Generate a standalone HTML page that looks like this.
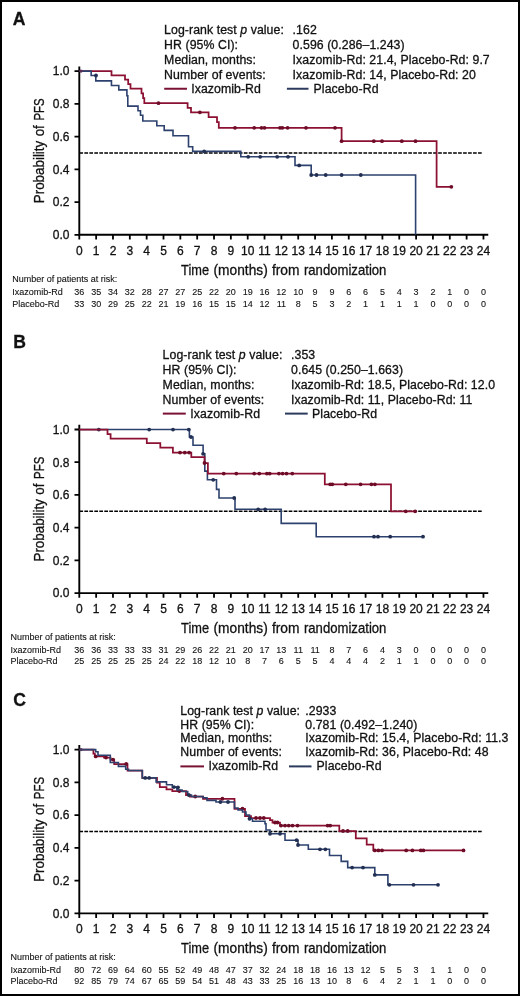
<!DOCTYPE html>
<html><head><meta charset="utf-8"><title>PFS Kaplan-Meier curves</title>
<style>
html,body{margin:0;padding:0;background:#fff;}
body{width:520px;height:996px;overflow:hidden;position:relative;}
.frame{position:absolute;left:0;top:0;width:516px;height:992px;border:2px solid #000;}
svg{position:absolute;left:0;top:0;will-change:transform;}
svg text{font-family:"Liberation Sans", sans-serif;fill:#111;stroke:#111;stroke-width:0.3px;}
</style></head>
<body>
<div class="frame"></div>
<svg width="520" height="996" viewBox="0 0 520 996">
<text x="12.7" y="24.8" font-size="17.6" font-weight="bold" fill="#000">A</text>
<path d="M79.3 66.4V234.8H488.26" fill="none" stroke="#000" stroke-width="1.9"/>
<path d="M74.5 234.8H79.3M74.5 202.06H79.3M74.5 169.32H79.3M74.5 136.58H79.3M74.5 103.84H79.3M74.5 71.1H79.3M79.3 234.8V239.4M96.14 234.8V239.4M112.98 234.8V239.4M129.82 234.8V239.4M146.66 234.8V239.4M163.5 234.8V239.4M180.34 234.8V239.4M197.18 234.8V239.4M214.02 234.8V239.4M230.86 234.8V239.4M247.7 234.8V239.4M264.54 234.8V239.4M281.38 234.8V239.4M298.22 234.8V239.4M315.06 234.8V239.4M331.9 234.8V239.4M348.74 234.8V239.4M365.58 234.8V239.4M382.42 234.8V239.4M399.26 234.8V239.4M416.1 234.8V239.4M432.94 234.8V239.4M449.78 234.8V239.4M466.62 234.8V239.4M483.46 234.8V239.4" fill="none" stroke="#000" stroke-width="1.8"/>
<text x="69.4" y="239.1" font-size="12" text-anchor="end">0.0</text>
<text x="69.4" y="206.36" font-size="12" text-anchor="end">0.2</text>
<text x="69.4" y="173.62" font-size="12" text-anchor="end">0.4</text>
<text x="69.4" y="140.88" font-size="12" text-anchor="end">0.6</text>
<text x="69.4" y="108.14" font-size="12" text-anchor="end">0.8</text>
<text x="69.4" y="75.4" font-size="12" text-anchor="end">1.0</text>
<text x="79.3" y="254.6" font-size="12" text-anchor="middle">0</text>
<text x="96.14" y="254.6" font-size="12" text-anchor="middle">1</text>
<text x="112.98" y="254.6" font-size="12" text-anchor="middle">2</text>
<text x="129.82" y="254.6" font-size="12" text-anchor="middle">3</text>
<text x="146.66" y="254.6" font-size="12" text-anchor="middle">4</text>
<text x="163.5" y="254.6" font-size="12" text-anchor="middle">5</text>
<text x="180.34" y="254.6" font-size="12" text-anchor="middle">6</text>
<text x="197.18" y="254.6" font-size="12" text-anchor="middle">7</text>
<text x="214.02" y="254.6" font-size="12" text-anchor="middle">8</text>
<text x="230.86" y="254.6" font-size="12" text-anchor="middle">9</text>
<text x="247.7" y="254.6" font-size="12" text-anchor="middle">10</text>
<text x="264.54" y="254.6" font-size="12" text-anchor="middle">11</text>
<text x="281.38" y="254.6" font-size="12" text-anchor="middle">12</text>
<text x="298.22" y="254.6" font-size="12" text-anchor="middle">13</text>
<text x="315.06" y="254.6" font-size="12" text-anchor="middle">14</text>
<text x="331.9" y="254.6" font-size="12" text-anchor="middle">15</text>
<text x="348.74" y="254.6" font-size="12" text-anchor="middle">16</text>
<text x="365.58" y="254.6" font-size="12" text-anchor="middle">17</text>
<text x="382.42" y="254.6" font-size="12" text-anchor="middle">18</text>
<text x="399.26" y="254.6" font-size="12" text-anchor="middle">19</text>
<text x="416.1" y="254.6" font-size="12" text-anchor="middle">20</text>
<text x="432.94" y="254.6" font-size="12" text-anchor="middle">21</text>
<text x="449.78" y="254.6" font-size="12" text-anchor="middle">22</text>
<text x="466.62" y="254.6" font-size="12" text-anchor="middle">23</text>
<text x="483.46" y="254.6" font-size="12" text-anchor="middle">24</text>
<text x="181.12" y="274.7" font-size="14.4" textLength="27.94" lengthAdjust="spacingAndGlyphs">Time</text>
<text x="213.55" y="274.7" font-size="14.4" textLength="54.2" lengthAdjust="spacingAndGlyphs">(months)</text>
<text x="271.91" y="274.7" font-size="14.4" textLength="27.6" lengthAdjust="spacingAndGlyphs">from</text>
<text x="303.93" y="274.7" font-size="14.4" textLength="82.5" lengthAdjust="spacingAndGlyphs">randomization</text>
<text transform="translate(43.8 203.2) rotate(-90)" x="0" y="0" font-size="14.4" textLength="62.43" lengthAdjust="spacingAndGlyphs">Probability</text>
<text transform="translate(43.8 136.36) rotate(-90)" x="0" y="0" font-size="14.4" textLength="11.15" lengthAdjust="spacingAndGlyphs">of</text>
<text transform="translate(43.8 120.59) rotate(-90)" x="0" y="0" font-size="14.4" textLength="22.21" lengthAdjust="spacingAndGlyphs">PFS</text>
<path d="M79.37 152.95H482.8" stroke="#000" stroke-width="1.5" stroke-dasharray="3.7 1.283" fill="none"/>
<text x="164.1" y="33.7" font-size="12.3" letter-spacing="0.07">Log-rank test <tspan font-style="italic">p</tspan> value:</text>
<text x="292.6" y="33.7" font-size="12.3" letter-spacing="0.07">.162</text>
<text x="164.1" y="48.65" font-size="12.3" letter-spacing="0.07">HR (95% CI):</text>
<text x="292.6" y="48.65" font-size="12.3" letter-spacing="0.07">0.596 (0.286&#8211;1.243)</text>
<text x="164.1" y="63.6" font-size="12.3" letter-spacing="0.07">Median, months:</text>
<text x="292.6" y="63.6" font-size="12.3" letter-spacing="0.07">Ixazomib-Rd: 21.4, Placebo-Rd: 9.7</text>
<text x="164.1" y="78.55" font-size="12.3" letter-spacing="0.07">Number of events:</text>
<text x="292.6" y="78.55" font-size="12.3" letter-spacing="0.07">Ixazomib-Rd: 14, Placebo-Rd: 20</text>
<path d="M164.2 88.75H187" stroke="#7a1234" stroke-width="2"/>
<text x="191.2" y="92.5" font-size="12.3" letter-spacing="0.07">Ixazomib-Rd</text>
<path d="M286.9 88.75H308.5" stroke="#2c3a5e" stroke-width="2"/>
<text x="313.6" y="92.5" font-size="12.3" letter-spacing="0.07">Placebo-Rd</text>
<path d="M79.3 71.1H111.5V75.4H125V79.7H128.2V84.1H130.5V88.7H141.5V93.3H143.1V98.2H144.3V103.2H187.6V107.8H191V112.3H208.6V117H217V122H218.8V127.8H341.6V141.2H436.6V186.8H451.3" fill="none" stroke="#8c1032" stroke-width="1.75" stroke-linejoin="miter" stroke-linecap="butt"/>
<circle cx="158.5" cy="103.2" r="1.9" fill="#6e0c28"/>
<circle cx="199.9" cy="112.3" r="1.9" fill="#6e0c28"/>
<circle cx="235" cy="127.8" r="1.9" fill="#6e0c28"/>
<circle cx="254.2" cy="127.8" r="1.9" fill="#6e0c28"/>
<circle cx="261.5" cy="127.8" r="1.9" fill="#6e0c28"/>
<circle cx="264.5" cy="127.8" r="1.9" fill="#6e0c28"/>
<circle cx="280" cy="127.8" r="1.9" fill="#6e0c28"/>
<circle cx="282.3" cy="127.8" r="1.9" fill="#6e0c28"/>
<circle cx="287.6" cy="127.8" r="1.9" fill="#6e0c28"/>
<circle cx="306" cy="127.8" r="1.9" fill="#6e0c28"/>
<circle cx="335" cy="127.8" r="1.9" fill="#6e0c28"/>
<circle cx="341.6" cy="141.2" r="1.9" fill="#6e0c28"/>
<circle cx="373.8" cy="141.2" r="1.9" fill="#6e0c28"/>
<circle cx="382" cy="141.2" r="1.9" fill="#6e0c28"/>
<circle cx="401.8" cy="141.2" r="1.9" fill="#6e0c28"/>
<circle cx="415.5" cy="141.2" r="1.9" fill="#6e0c28"/>
<circle cx="451.3" cy="186.8" r="1.9" fill="#6e0c28"/>
<path d="M79.3 71.1H91.15V75.5H95.8V80.9H111.45V85.5H118.8V89.9H126.9V95.7H127.8V106.1H138V110.7H140.5V115.3H142.8V121H156.8V125.8H164.2V130.4H173V135.8H188.5V146.7H192.7V151.4H240.8V156.8H295V165.4H311.2V175H415.6V234.8H415.6" fill="none" stroke="#2c416e" stroke-width="1.6" stroke-linejoin="miter" stroke-linecap="butt"/>
<circle cx="96" cy="75.5" r="1.9" fill="#222f52"/>
<circle cx="204.2" cy="151.4" r="1.9" fill="#222f52"/>
<circle cx="248.2" cy="156.8" r="1.9" fill="#222f52"/>
<circle cx="260.2" cy="156.8" r="1.9" fill="#222f52"/>
<circle cx="277.2" cy="156.8" r="1.9" fill="#222f52"/>
<circle cx="288" cy="156.8" r="1.9" fill="#222f52"/>
<circle cx="299.2" cy="165.4" r="1.9" fill="#222f52"/>
<circle cx="311.2" cy="175" r="1.9" fill="#222f52"/>
<circle cx="316.5" cy="175" r="1.9" fill="#222f52"/>
<circle cx="325.7" cy="175" r="1.9" fill="#222f52"/>
<circle cx="341.6" cy="175" r="1.9" fill="#222f52"/>
<circle cx="360.8" cy="175" r="1.9" fill="#222f52"/>
<circle cx="81" cy="71.1" r="1.6" fill="#5a2a55"/>
<text x="12.2" y="281.5" font-size="9" style="stroke-width:0.1px">Number of patients at risk:</text>
<text x="12.2" y="295" font-size="9" style="stroke-width:0.1px">Ixazomib-Rd</text>
<text x="12.2" y="306.9" font-size="9" style="stroke-width:0.1px">Placebo-Rd</text>
<text x="79.3" y="295" font-size="9" style="stroke-width:0.1px" text-anchor="middle">36</text>
<text x="79.3" y="306.9" font-size="9" style="stroke-width:0.1px" text-anchor="middle">33</text>
<text x="96.14" y="295" font-size="9" style="stroke-width:0.1px" text-anchor="middle">35</text>
<text x="96.14" y="306.9" font-size="9" style="stroke-width:0.1px" text-anchor="middle">30</text>
<text x="112.98" y="295" font-size="9" style="stroke-width:0.1px" text-anchor="middle">34</text>
<text x="112.98" y="306.9" font-size="9" style="stroke-width:0.1px" text-anchor="middle">29</text>
<text x="129.82" y="295" font-size="9" style="stroke-width:0.1px" text-anchor="middle">32</text>
<text x="129.82" y="306.9" font-size="9" style="stroke-width:0.1px" text-anchor="middle">25</text>
<text x="146.66" y="295" font-size="9" style="stroke-width:0.1px" text-anchor="middle">28</text>
<text x="146.66" y="306.9" font-size="9" style="stroke-width:0.1px" text-anchor="middle">22</text>
<text x="163.5" y="295" font-size="9" style="stroke-width:0.1px" text-anchor="middle">27</text>
<text x="163.5" y="306.9" font-size="9" style="stroke-width:0.1px" text-anchor="middle">21</text>
<text x="180.34" y="295" font-size="9" style="stroke-width:0.1px" text-anchor="middle">27</text>
<text x="180.34" y="306.9" font-size="9" style="stroke-width:0.1px" text-anchor="middle">19</text>
<text x="197.18" y="295" font-size="9" style="stroke-width:0.1px" text-anchor="middle">25</text>
<text x="197.18" y="306.9" font-size="9" style="stroke-width:0.1px" text-anchor="middle">16</text>
<text x="214.02" y="295" font-size="9" style="stroke-width:0.1px" text-anchor="middle">22</text>
<text x="214.02" y="306.9" font-size="9" style="stroke-width:0.1px" text-anchor="middle">15</text>
<text x="230.86" y="295" font-size="9" style="stroke-width:0.1px" text-anchor="middle">20</text>
<text x="230.86" y="306.9" font-size="9" style="stroke-width:0.1px" text-anchor="middle">15</text>
<text x="247.7" y="295" font-size="9" style="stroke-width:0.1px" text-anchor="middle">19</text>
<text x="247.7" y="306.9" font-size="9" style="stroke-width:0.1px" text-anchor="middle">14</text>
<text x="264.54" y="295" font-size="9" style="stroke-width:0.1px" text-anchor="middle">16</text>
<text x="264.54" y="306.9" font-size="9" style="stroke-width:0.1px" text-anchor="middle">12</text>
<text x="281.38" y="295" font-size="9" style="stroke-width:0.1px" text-anchor="middle">12</text>
<text x="281.38" y="306.9" font-size="9" style="stroke-width:0.1px" text-anchor="middle">11</text>
<text x="298.22" y="295" font-size="9" style="stroke-width:0.1px" text-anchor="middle">10</text>
<text x="298.22" y="306.9" font-size="9" style="stroke-width:0.1px" text-anchor="middle">8</text>
<text x="315.06" y="295" font-size="9" style="stroke-width:0.1px" text-anchor="middle">9</text>
<text x="315.06" y="306.9" font-size="9" style="stroke-width:0.1px" text-anchor="middle">5</text>
<text x="331.9" y="295" font-size="9" style="stroke-width:0.1px" text-anchor="middle">9</text>
<text x="331.9" y="306.9" font-size="9" style="stroke-width:0.1px" text-anchor="middle">3</text>
<text x="348.74" y="295" font-size="9" style="stroke-width:0.1px" text-anchor="middle">6</text>
<text x="348.74" y="306.9" font-size="9" style="stroke-width:0.1px" text-anchor="middle">2</text>
<text x="365.58" y="295" font-size="9" style="stroke-width:0.1px" text-anchor="middle">6</text>
<text x="365.58" y="306.9" font-size="9" style="stroke-width:0.1px" text-anchor="middle">1</text>
<text x="382.42" y="295" font-size="9" style="stroke-width:0.1px" text-anchor="middle">5</text>
<text x="382.42" y="306.9" font-size="9" style="stroke-width:0.1px" text-anchor="middle">1</text>
<text x="399.26" y="295" font-size="9" style="stroke-width:0.1px" text-anchor="middle">4</text>
<text x="399.26" y="306.9" font-size="9" style="stroke-width:0.1px" text-anchor="middle">1</text>
<text x="416.1" y="295" font-size="9" style="stroke-width:0.1px" text-anchor="middle">3</text>
<text x="416.1" y="306.9" font-size="9" style="stroke-width:0.1px" text-anchor="middle">1</text>
<text x="432.94" y="295" font-size="9" style="stroke-width:0.1px" text-anchor="middle">2</text>
<text x="432.94" y="306.9" font-size="9" style="stroke-width:0.1px" text-anchor="middle">0</text>
<text x="449.78" y="295" font-size="9" style="stroke-width:0.1px" text-anchor="middle">1</text>
<text x="449.78" y="306.9" font-size="9" style="stroke-width:0.1px" text-anchor="middle">0</text>
<text x="466.62" y="295" font-size="9" style="stroke-width:0.1px" text-anchor="middle">0</text>
<text x="466.62" y="306.9" font-size="9" style="stroke-width:0.1px" text-anchor="middle">0</text>
<text x="483.46" y="295" font-size="9" style="stroke-width:0.1px" text-anchor="middle">0</text>
<text x="483.46" y="306.9" font-size="9" style="stroke-width:0.1px" text-anchor="middle">0</text>
<text x="13.2" y="347.6" font-size="17.6" font-weight="bold" fill="#000">B</text>
<path d="M79.3 424.8V593.1H488.26" fill="none" stroke="#000" stroke-width="1.9"/>
<path d="M74.5 593.1H79.3M74.5 560.38H79.3M74.5 527.66H79.3M74.5 494.94H79.3M74.5 462.22H79.3M74.5 429.5H79.3M79.3 593.1V597.7M96.14 593.1V597.7M112.98 593.1V597.7M129.82 593.1V597.7M146.66 593.1V597.7M163.5 593.1V597.7M180.34 593.1V597.7M197.18 593.1V597.7M214.02 593.1V597.7M230.86 593.1V597.7M247.7 593.1V597.7M264.54 593.1V597.7M281.38 593.1V597.7M298.22 593.1V597.7M315.06 593.1V597.7M331.9 593.1V597.7M348.74 593.1V597.7M365.58 593.1V597.7M382.42 593.1V597.7M399.26 593.1V597.7M416.1 593.1V597.7M432.94 593.1V597.7M449.78 593.1V597.7M466.62 593.1V597.7M483.46 593.1V597.7" fill="none" stroke="#000" stroke-width="1.8"/>
<text x="69.4" y="597.4" font-size="12" text-anchor="end">0.0</text>
<text x="69.4" y="564.68" font-size="12" text-anchor="end">0.2</text>
<text x="69.4" y="531.96" font-size="12" text-anchor="end">0.4</text>
<text x="69.4" y="499.24" font-size="12" text-anchor="end">0.6</text>
<text x="69.4" y="466.52" font-size="12" text-anchor="end">0.8</text>
<text x="69.4" y="433.8" font-size="12" text-anchor="end">1.0</text>
<text x="79.3" y="612.9" font-size="12" text-anchor="middle">0</text>
<text x="96.14" y="612.9" font-size="12" text-anchor="middle">1</text>
<text x="112.98" y="612.9" font-size="12" text-anchor="middle">2</text>
<text x="129.82" y="612.9" font-size="12" text-anchor="middle">3</text>
<text x="146.66" y="612.9" font-size="12" text-anchor="middle">4</text>
<text x="163.5" y="612.9" font-size="12" text-anchor="middle">5</text>
<text x="180.34" y="612.9" font-size="12" text-anchor="middle">6</text>
<text x="197.18" y="612.9" font-size="12" text-anchor="middle">7</text>
<text x="214.02" y="612.9" font-size="12" text-anchor="middle">8</text>
<text x="230.86" y="612.9" font-size="12" text-anchor="middle">9</text>
<text x="247.7" y="612.9" font-size="12" text-anchor="middle">10</text>
<text x="264.54" y="612.9" font-size="12" text-anchor="middle">11</text>
<text x="281.38" y="612.9" font-size="12" text-anchor="middle">12</text>
<text x="298.22" y="612.9" font-size="12" text-anchor="middle">13</text>
<text x="315.06" y="612.9" font-size="12" text-anchor="middle">14</text>
<text x="331.9" y="612.9" font-size="12" text-anchor="middle">15</text>
<text x="348.74" y="612.9" font-size="12" text-anchor="middle">16</text>
<text x="365.58" y="612.9" font-size="12" text-anchor="middle">17</text>
<text x="382.42" y="612.9" font-size="12" text-anchor="middle">18</text>
<text x="399.26" y="612.9" font-size="12" text-anchor="middle">19</text>
<text x="416.1" y="612.9" font-size="12" text-anchor="middle">20</text>
<text x="432.94" y="612.9" font-size="12" text-anchor="middle">21</text>
<text x="449.78" y="612.9" font-size="12" text-anchor="middle">22</text>
<text x="466.62" y="612.9" font-size="12" text-anchor="middle">23</text>
<text x="483.46" y="612.9" font-size="12" text-anchor="middle">24</text>
<text x="181.12" y="633" font-size="14.4" textLength="27.94" lengthAdjust="spacingAndGlyphs">Time</text>
<text x="213.55" y="633" font-size="14.4" textLength="54.2" lengthAdjust="spacingAndGlyphs">(months)</text>
<text x="271.91" y="633" font-size="14.4" textLength="27.6" lengthAdjust="spacingAndGlyphs">from</text>
<text x="303.93" y="633" font-size="14.4" textLength="82.5" lengthAdjust="spacingAndGlyphs">randomization</text>
<text transform="translate(43.8 561.5) rotate(-90)" x="0" y="0" font-size="14.4" textLength="62.43" lengthAdjust="spacingAndGlyphs">Probability</text>
<text transform="translate(43.8 494.66) rotate(-90)" x="0" y="0" font-size="14.4" textLength="11.15" lengthAdjust="spacingAndGlyphs">of</text>
<text transform="translate(43.8 478.89) rotate(-90)" x="0" y="0" font-size="14.4" textLength="22.21" lengthAdjust="spacingAndGlyphs">PFS</text>
<path d="M79.37 511.3H482.8" stroke="#000" stroke-width="1.5" stroke-dasharray="3.7 1.283" fill="none"/>
<text x="162.6" y="359.1" font-size="12.3" letter-spacing="0.07">Log-rank test <tspan font-style="italic">p</tspan> value:</text>
<text x="291" y="359.1" font-size="12.3" letter-spacing="0.07">.353</text>
<text x="162.6" y="373.95" font-size="12.3" letter-spacing="0.07">HR (95% CI):</text>
<text x="291" y="373.95" font-size="12.3" letter-spacing="0.07">0.645 (0.250&#8211;1.663)</text>
<text x="162.6" y="388.8" font-size="12.3" letter-spacing="0.07">Median, months:</text>
<text x="291" y="388.8" font-size="12.3" letter-spacing="0.07">Ixazomib-Rd: 18.5, Placebo-Rd: 12.0</text>
<text x="162.6" y="403.65" font-size="12.3" letter-spacing="0.07">Number of events:</text>
<text x="291" y="403.65" font-size="12.3" letter-spacing="0.07">Ixazomib-Rd: 11, Placebo-Rd: 11</text>
<path d="M162.8 413.6H185.8" stroke="#7a1234" stroke-width="2"/>
<text x="190.3" y="417.5" font-size="12.3" letter-spacing="0.07">Ixazomib-Rd</text>
<path d="M285 413.6H307.7" stroke="#2c3a5e" stroke-width="2"/>
<text x="312.1" y="417.5" font-size="12.3" letter-spacing="0.07">Placebo-Rd</text>
<path d="M79.3 429.5H189.4V437H193V445.2H203.1V453.8H204.8V471.1H207.4V479.8H216.5V489.4H219V498H235V509.3H281.2V523.4H316.2V536.7H423" fill="none" stroke="#2c416e" stroke-width="1.6" stroke-linejoin="miter" stroke-linecap="butt"/>
<circle cx="98.8" cy="429.6" r="1.9" fill="#222f52"/>
<circle cx="149.2" cy="429.6" r="1.9" fill="#222f52"/>
<circle cx="173" cy="429.6" r="1.9" fill="#222f52"/>
<circle cx="188.8" cy="429.6" r="1.9" fill="#222f52"/>
<circle cx="191" cy="437" r="1.9" fill="#222f52"/>
<circle cx="203.1" cy="453.8" r="1.9" fill="#222f52"/>
<circle cx="213.2" cy="479.8" r="1.9" fill="#222f52"/>
<circle cx="234.2" cy="498" r="1.9" fill="#222f52"/>
<circle cx="258.2" cy="509.3" r="1.9" fill="#222f52"/>
<circle cx="265.1" cy="509.3" r="1.9" fill="#222f52"/>
<circle cx="374" cy="536.7" r="1.9" fill="#222f52"/>
<circle cx="378" cy="536.7" r="1.9" fill="#222f52"/>
<circle cx="390.2" cy="536.7" r="1.9" fill="#222f52"/>
<circle cx="423" cy="536.7" r="1.9" fill="#222f52"/>
<path d="M79.3 429.5H107.5V434.1H110.6V438.6H146.8V443.1H160.3V447.6H172.9V452.6H191.3V457.2H204.5V463H207.9V473.6H324.8V484.3H391V511.3H415.2" fill="none" stroke="#8c1032" stroke-width="1.75" stroke-linejoin="miter" stroke-linecap="butt"/>
<circle cx="180" cy="452.6" r="1.9" fill="#6e0c28"/>
<circle cx="184.8" cy="452.6" r="1.9" fill="#6e0c28"/>
<circle cx="189.1" cy="452.6" r="1.9" fill="#6e0c28"/>
<circle cx="204.5" cy="463" r="1.9" fill="#6e0c28"/>
<circle cx="223.75" cy="473.6" r="1.9" fill="#6e0c28"/>
<circle cx="236.3" cy="473.6" r="1.9" fill="#6e0c28"/>
<circle cx="254.2" cy="473.6" r="1.9" fill="#6e0c28"/>
<circle cx="259.3" cy="473.6" r="1.9" fill="#6e0c28"/>
<circle cx="266.9" cy="473.6" r="1.9" fill="#6e0c28"/>
<circle cx="269.7" cy="473.6" r="1.9" fill="#6e0c28"/>
<circle cx="278.9" cy="473.6" r="1.9" fill="#6e0c28"/>
<circle cx="282.6" cy="473.6" r="1.9" fill="#6e0c28"/>
<circle cx="286.5" cy="473.6" r="1.9" fill="#6e0c28"/>
<circle cx="292.3" cy="473.6" r="1.9" fill="#6e0c28"/>
<circle cx="330.2" cy="484.3" r="1.9" fill="#6e0c28"/>
<circle cx="332.3" cy="484.3" r="1.9" fill="#6e0c28"/>
<circle cx="345.8" cy="484.3" r="1.9" fill="#6e0c28"/>
<circle cx="360.6" cy="484.3" r="1.9" fill="#6e0c28"/>
<circle cx="371.4" cy="484.3" r="1.9" fill="#6e0c28"/>
<circle cx="374.9" cy="484.3" r="1.9" fill="#6e0c28"/>
<circle cx="405.8" cy="511.3" r="1.9" fill="#6e0c28"/>
<circle cx="415.2" cy="511.3" r="1.9" fill="#6e0c28"/>
<text x="10.6" y="639.6" font-size="9" style="stroke-width:0.1px">Number of patients at risk:</text>
<text x="10.6" y="653" font-size="9" style="stroke-width:0.1px">Ixazomib-Rd</text>
<text x="10.6" y="664" font-size="9" style="stroke-width:0.1px">Placebo-Rd</text>
<text x="79.3" y="653" font-size="9" style="stroke-width:0.1px" text-anchor="middle">36</text>
<text x="79.3" y="664" font-size="9" style="stroke-width:0.1px" text-anchor="middle">25</text>
<text x="96.14" y="653" font-size="9" style="stroke-width:0.1px" text-anchor="middle">36</text>
<text x="96.14" y="664" font-size="9" style="stroke-width:0.1px" text-anchor="middle">25</text>
<text x="112.98" y="653" font-size="9" style="stroke-width:0.1px" text-anchor="middle">33</text>
<text x="112.98" y="664" font-size="9" style="stroke-width:0.1px" text-anchor="middle">25</text>
<text x="129.82" y="653" font-size="9" style="stroke-width:0.1px" text-anchor="middle">33</text>
<text x="129.82" y="664" font-size="9" style="stroke-width:0.1px" text-anchor="middle">25</text>
<text x="146.66" y="653" font-size="9" style="stroke-width:0.1px" text-anchor="middle">33</text>
<text x="146.66" y="664" font-size="9" style="stroke-width:0.1px" text-anchor="middle">25</text>
<text x="163.5" y="653" font-size="9" style="stroke-width:0.1px" text-anchor="middle">31</text>
<text x="163.5" y="664" font-size="9" style="stroke-width:0.1px" text-anchor="middle">24</text>
<text x="180.34" y="653" font-size="9" style="stroke-width:0.1px" text-anchor="middle">29</text>
<text x="180.34" y="664" font-size="9" style="stroke-width:0.1px" text-anchor="middle">22</text>
<text x="197.18" y="653" font-size="9" style="stroke-width:0.1px" text-anchor="middle">26</text>
<text x="197.18" y="664" font-size="9" style="stroke-width:0.1px" text-anchor="middle">18</text>
<text x="214.02" y="653" font-size="9" style="stroke-width:0.1px" text-anchor="middle">22</text>
<text x="214.02" y="664" font-size="9" style="stroke-width:0.1px" text-anchor="middle">12</text>
<text x="230.86" y="653" font-size="9" style="stroke-width:0.1px" text-anchor="middle">21</text>
<text x="230.86" y="664" font-size="9" style="stroke-width:0.1px" text-anchor="middle">10</text>
<text x="247.7" y="653" font-size="9" style="stroke-width:0.1px" text-anchor="middle">20</text>
<text x="247.7" y="664" font-size="9" style="stroke-width:0.1px" text-anchor="middle">8</text>
<text x="264.54" y="653" font-size="9" style="stroke-width:0.1px" text-anchor="middle">17</text>
<text x="264.54" y="664" font-size="9" style="stroke-width:0.1px" text-anchor="middle">7</text>
<text x="281.38" y="653" font-size="9" style="stroke-width:0.1px" text-anchor="middle">13</text>
<text x="281.38" y="664" font-size="9" style="stroke-width:0.1px" text-anchor="middle">6</text>
<text x="298.22" y="653" font-size="9" style="stroke-width:0.1px" text-anchor="middle">11</text>
<text x="298.22" y="664" font-size="9" style="stroke-width:0.1px" text-anchor="middle">5</text>
<text x="315.06" y="653" font-size="9" style="stroke-width:0.1px" text-anchor="middle">11</text>
<text x="315.06" y="664" font-size="9" style="stroke-width:0.1px" text-anchor="middle">5</text>
<text x="331.9" y="653" font-size="9" style="stroke-width:0.1px" text-anchor="middle">8</text>
<text x="331.9" y="664" font-size="9" style="stroke-width:0.1px" text-anchor="middle">4</text>
<text x="348.74" y="653" font-size="9" style="stroke-width:0.1px" text-anchor="middle">7</text>
<text x="348.74" y="664" font-size="9" style="stroke-width:0.1px" text-anchor="middle">4</text>
<text x="365.58" y="653" font-size="9" style="stroke-width:0.1px" text-anchor="middle">6</text>
<text x="365.58" y="664" font-size="9" style="stroke-width:0.1px" text-anchor="middle">4</text>
<text x="382.42" y="653" font-size="9" style="stroke-width:0.1px" text-anchor="middle">4</text>
<text x="382.42" y="664" font-size="9" style="stroke-width:0.1px" text-anchor="middle">2</text>
<text x="399.26" y="653" font-size="9" style="stroke-width:0.1px" text-anchor="middle">3</text>
<text x="399.26" y="664" font-size="9" style="stroke-width:0.1px" text-anchor="middle">1</text>
<text x="416.1" y="653" font-size="9" style="stroke-width:0.1px" text-anchor="middle">0</text>
<text x="416.1" y="664" font-size="9" style="stroke-width:0.1px" text-anchor="middle">1</text>
<text x="432.94" y="653" font-size="9" style="stroke-width:0.1px" text-anchor="middle">0</text>
<text x="432.94" y="664" font-size="9" style="stroke-width:0.1px" text-anchor="middle">0</text>
<text x="449.78" y="653" font-size="9" style="stroke-width:0.1px" text-anchor="middle">0</text>
<text x="449.78" y="664" font-size="9" style="stroke-width:0.1px" text-anchor="middle">0</text>
<text x="466.62" y="653" font-size="9" style="stroke-width:0.1px" text-anchor="middle">0</text>
<text x="466.62" y="664" font-size="9" style="stroke-width:0.1px" text-anchor="middle">0</text>
<text x="483.46" y="653" font-size="9" style="stroke-width:0.1px" text-anchor="middle">0</text>
<text x="483.46" y="664" font-size="9" style="stroke-width:0.1px" text-anchor="middle">0</text>
<text x="13.2" y="705.7" font-size="17.6" font-weight="bold" fill="#000">C</text>
<path d="M79.3 744.9V913.4H488.26" fill="none" stroke="#000" stroke-width="1.9"/>
<path d="M74.5 913.4H79.3M74.5 880.64H79.3M74.5 847.88H79.3M74.5 815.12H79.3M74.5 782.36H79.3M74.5 749.6H79.3M79.3 913.4V918M96.14 913.4V918M112.98 913.4V918M129.82 913.4V918M146.66 913.4V918M163.5 913.4V918M180.34 913.4V918M197.18 913.4V918M214.02 913.4V918M230.86 913.4V918M247.7 913.4V918M264.54 913.4V918M281.38 913.4V918M298.22 913.4V918M315.06 913.4V918M331.9 913.4V918M348.74 913.4V918M365.58 913.4V918M382.42 913.4V918M399.26 913.4V918M416.1 913.4V918M432.94 913.4V918M449.78 913.4V918M466.62 913.4V918M483.46 913.4V918" fill="none" stroke="#000" stroke-width="1.8"/>
<text x="69.4" y="917.7" font-size="12" text-anchor="end">0.0</text>
<text x="69.4" y="884.94" font-size="12" text-anchor="end">0.2</text>
<text x="69.4" y="852.18" font-size="12" text-anchor="end">0.4</text>
<text x="69.4" y="819.42" font-size="12" text-anchor="end">0.6</text>
<text x="69.4" y="786.66" font-size="12" text-anchor="end">0.8</text>
<text x="69.4" y="753.9" font-size="12" text-anchor="end">1.0</text>
<text x="79.3" y="933.2" font-size="12" text-anchor="middle">0</text>
<text x="96.14" y="933.2" font-size="12" text-anchor="middle">1</text>
<text x="112.98" y="933.2" font-size="12" text-anchor="middle">2</text>
<text x="129.82" y="933.2" font-size="12" text-anchor="middle">3</text>
<text x="146.66" y="933.2" font-size="12" text-anchor="middle">4</text>
<text x="163.5" y="933.2" font-size="12" text-anchor="middle">5</text>
<text x="180.34" y="933.2" font-size="12" text-anchor="middle">6</text>
<text x="197.18" y="933.2" font-size="12" text-anchor="middle">7</text>
<text x="214.02" y="933.2" font-size="12" text-anchor="middle">8</text>
<text x="230.86" y="933.2" font-size="12" text-anchor="middle">9</text>
<text x="247.7" y="933.2" font-size="12" text-anchor="middle">10</text>
<text x="264.54" y="933.2" font-size="12" text-anchor="middle">11</text>
<text x="281.38" y="933.2" font-size="12" text-anchor="middle">12</text>
<text x="298.22" y="933.2" font-size="12" text-anchor="middle">13</text>
<text x="315.06" y="933.2" font-size="12" text-anchor="middle">14</text>
<text x="331.9" y="933.2" font-size="12" text-anchor="middle">15</text>
<text x="348.74" y="933.2" font-size="12" text-anchor="middle">16</text>
<text x="365.58" y="933.2" font-size="12" text-anchor="middle">17</text>
<text x="382.42" y="933.2" font-size="12" text-anchor="middle">18</text>
<text x="399.26" y="933.2" font-size="12" text-anchor="middle">19</text>
<text x="416.1" y="933.2" font-size="12" text-anchor="middle">20</text>
<text x="432.94" y="933.2" font-size="12" text-anchor="middle">21</text>
<text x="449.78" y="933.2" font-size="12" text-anchor="middle">22</text>
<text x="466.62" y="933.2" font-size="12" text-anchor="middle">23</text>
<text x="483.46" y="933.2" font-size="12" text-anchor="middle">24</text>
<text x="181.12" y="953.3" font-size="14.4" textLength="27.94" lengthAdjust="spacingAndGlyphs">Time</text>
<text x="213.55" y="953.3" font-size="14.4" textLength="54.2" lengthAdjust="spacingAndGlyphs">(months)</text>
<text x="271.91" y="953.3" font-size="14.4" textLength="27.6" lengthAdjust="spacingAndGlyphs">from</text>
<text x="303.93" y="953.3" font-size="14.4" textLength="82.5" lengthAdjust="spacingAndGlyphs">randomization</text>
<text transform="translate(43.8 881.8) rotate(-90)" x="0" y="0" font-size="14.4" textLength="62.43" lengthAdjust="spacingAndGlyphs">Probability</text>
<text transform="translate(43.8 814.96) rotate(-90)" x="0" y="0" font-size="14.4" textLength="11.15" lengthAdjust="spacingAndGlyphs">of</text>
<text transform="translate(43.8 799.19) rotate(-90)" x="0" y="0" font-size="14.4" textLength="22.21" lengthAdjust="spacingAndGlyphs">PFS</text>
<path d="M79.37 831.5H482.8" stroke="#000" stroke-width="1.5" stroke-dasharray="3.7 1.283" fill="none"/>
<text x="180.3" y="715.3" font-size="12.3" letter-spacing="0.07">Log-rank test <tspan font-style="italic">p</tspan> value:</text>
<text x="305.3" y="715.3" font-size="12.3" letter-spacing="0.07">.2933</text>
<text x="180.3" y="728.8" font-size="12.3" letter-spacing="0.07">HR (95% CI):</text>
<text x="305.3" y="728.8" font-size="12.3" letter-spacing="0.07">0.781 (0.492&#8211;1.240)</text>
<text x="180.3" y="742.3" font-size="12.3" letter-spacing="0.07">Median, months:</text>
<text x="305.3" y="742.3" font-size="12.3" letter-spacing="0.07">Ixazomib-Rd: 15.4, Placebo-Rd: 11.3</text>
<text x="180.3" y="755.8" font-size="12.3" letter-spacing="0.07">Number of events:</text>
<text x="305.3" y="755.8" font-size="12.3" letter-spacing="0.07">Ixazomib-Rd: 36, Placebo-Rd: 48</text>
<path d="M180.4 766.4H204" stroke="#7a1234" stroke-width="2"/>
<text x="208.4" y="770.4" font-size="12.3" letter-spacing="0.07">Ixazomib-Rd</text>
<path d="M289 766.4H311.5" stroke="#2c3a5e" stroke-width="2"/>
<text x="316.6" y="770.4" font-size="12.3" letter-spacing="0.07">Placebo-Rd</text>
<path d="M79.3 749.6H93.4V753.7H94.8V756.4H104V757.5H110.5V759.6H114.2V764H127.5V770.5H142.3V777.9H157V782.7H159.8V787H166.5V789.4H172.3V791.1H186V795H190V796.5H203V798.75H234.5V808.75H245V816H251V818H270V820H272.5V822.5H280V825.6H339.3V831H355.8V838.4H366.7V844.6H373.3V850.4H463.5" fill="none" stroke="#8c1032" stroke-width="1.75" stroke-linejoin="miter" stroke-linecap="butt"/>
<circle cx="95.7" cy="756.4" r="1.9" fill="#6e0c28"/>
<circle cx="106" cy="757.5" r="1.9" fill="#6e0c28"/>
<circle cx="113" cy="759.6" r="1.9" fill="#6e0c28"/>
<circle cx="126.2" cy="764" r="1.9" fill="#6e0c28"/>
<circle cx="179.3" cy="791.1" r="1.9" fill="#6e0c28"/>
<circle cx="195.2" cy="796.5" r="1.9" fill="#6e0c28"/>
<circle cx="222.4" cy="798.75" r="1.9" fill="#6e0c28"/>
<circle cx="242.5" cy="808.75" r="1.9" fill="#6e0c28"/>
<circle cx="256" cy="818" r="1.9" fill="#6e0c28"/>
<circle cx="260" cy="818" r="1.9" fill="#6e0c28"/>
<circle cx="263.75" cy="818" r="1.9" fill="#6e0c28"/>
<circle cx="275" cy="822.5" r="1.9" fill="#6e0c28"/>
<circle cx="277.5" cy="822.5" r="1.9" fill="#6e0c28"/>
<circle cx="281" cy="825.6" r="1.9" fill="#6e0c28"/>
<circle cx="285" cy="825.6" r="1.9" fill="#6e0c28"/>
<circle cx="288.75" cy="825.6" r="1.9" fill="#6e0c28"/>
<circle cx="292.5" cy="825.6" r="1.9" fill="#6e0c28"/>
<circle cx="297.5" cy="825.6" r="1.9" fill="#6e0c28"/>
<circle cx="327.6" cy="825.6" r="1.9" fill="#6e0c28"/>
<circle cx="330.2" cy="825.6" r="1.9" fill="#6e0c28"/>
<circle cx="343" cy="831" r="1.9" fill="#6e0c28"/>
<circle cx="347.7" cy="831" r="1.9" fill="#6e0c28"/>
<circle cx="374.8" cy="850.4" r="1.9" fill="#6e0c28"/>
<circle cx="378.4" cy="850.4" r="1.9" fill="#6e0c28"/>
<circle cx="382" cy="850.4" r="1.9" fill="#6e0c28"/>
<circle cx="406.2" cy="850.4" r="1.9" fill="#6e0c28"/>
<circle cx="412.4" cy="850.4" r="1.9" fill="#6e0c28"/>
<circle cx="420.8" cy="850.4" r="1.9" fill="#6e0c28"/>
<circle cx="423.4" cy="850.4" r="1.9" fill="#6e0c28"/>
<circle cx="463.5" cy="850.4" r="1.9" fill="#6e0c28"/>
<path d="M79.3 749.6H95.7V751.8H98V755.2H110.3V762.5H118.4V766.4H125.7V769.2H128.5V770.5H142.3V777.9H156.1V781.9H166.5V784.8H172.3V787.1H176.9V790H182V791.5H187.7V795H191.5V796.5H203V797.8H207V800.4H216V802H234.5V808H238V810H242.5V812H246V815H249.5V818.75H252.5V821.25H265V823.75H266V830H270V833.75H285V840.2H298V845H308.3V849.3H329.5V855.5H341.2V861.4H347.7V867.6H374.8V874.9H387.9V884.8H438" fill="none" stroke="#2c416e" stroke-width="1.6" stroke-linejoin="miter" stroke-linecap="butt"/>
<circle cx="145.2" cy="777.9" r="1.9" fill="#222f52"/>
<circle cx="149.2" cy="777.9" r="1.9" fill="#222f52"/>
<circle cx="174" cy="787.1" r="1.9" fill="#222f52"/>
<circle cx="178" cy="787.3" r="1.9" fill="#222f52"/>
<circle cx="188.75" cy="795" r="1.9" fill="#222f52"/>
<circle cx="220.4" cy="802" r="1.9" fill="#222f52"/>
<circle cx="228" cy="802" r="1.9" fill="#222f52"/>
<circle cx="249.5" cy="818.75" r="1.9" fill="#222f52"/>
<circle cx="270" cy="833.75" r="1.9" fill="#222f52"/>
<circle cx="280" cy="833.75" r="1.9" fill="#222f52"/>
<circle cx="296.6" cy="840.2" r="1.9" fill="#222f52"/>
<circle cx="298" cy="845" r="1.9" fill="#222f52"/>
<circle cx="320" cy="849.3" r="1.9" fill="#222f52"/>
<circle cx="325.4" cy="849.3" r="1.9" fill="#222f52"/>
<circle cx="352.1" cy="867.6" r="1.9" fill="#222f52"/>
<circle cx="363" cy="867.6" r="1.9" fill="#222f52"/>
<circle cx="374.8" cy="874.9" r="1.9" fill="#222f52"/>
<circle cx="389.4" cy="884.8" r="1.9" fill="#222f52"/>
<circle cx="413.5" cy="884.8" r="1.9" fill="#222f52"/>
<circle cx="438" cy="884.8" r="1.9" fill="#222f52"/>
<circle cx="81" cy="749.6" r="1.6" fill="#4a3a60"/>
<text x="10.6" y="959.6" font-size="9" style="stroke-width:0.1px">Number of patients at risk:</text>
<text x="10.6" y="973.1" font-size="9" style="stroke-width:0.1px">Ixazomib-Rd</text>
<text x="10.6" y="984.2" font-size="9" style="stroke-width:0.1px">Placebo-Rd</text>
<text x="79.3" y="973.1" font-size="9" style="stroke-width:0.1px" text-anchor="middle">80</text>
<text x="79.3" y="984.2" font-size="9" style="stroke-width:0.1px" text-anchor="middle">92</text>
<text x="96.14" y="973.1" font-size="9" style="stroke-width:0.1px" text-anchor="middle">72</text>
<text x="96.14" y="984.2" font-size="9" style="stroke-width:0.1px" text-anchor="middle">85</text>
<text x="112.98" y="973.1" font-size="9" style="stroke-width:0.1px" text-anchor="middle">69</text>
<text x="112.98" y="984.2" font-size="9" style="stroke-width:0.1px" text-anchor="middle">79</text>
<text x="129.82" y="973.1" font-size="9" style="stroke-width:0.1px" text-anchor="middle">64</text>
<text x="129.82" y="984.2" font-size="9" style="stroke-width:0.1px" text-anchor="middle">74</text>
<text x="146.66" y="973.1" font-size="9" style="stroke-width:0.1px" text-anchor="middle">60</text>
<text x="146.66" y="984.2" font-size="9" style="stroke-width:0.1px" text-anchor="middle">67</text>
<text x="163.5" y="973.1" font-size="9" style="stroke-width:0.1px" text-anchor="middle">55</text>
<text x="163.5" y="984.2" font-size="9" style="stroke-width:0.1px" text-anchor="middle">65</text>
<text x="180.34" y="973.1" font-size="9" style="stroke-width:0.1px" text-anchor="middle">52</text>
<text x="180.34" y="984.2" font-size="9" style="stroke-width:0.1px" text-anchor="middle">59</text>
<text x="197.18" y="973.1" font-size="9" style="stroke-width:0.1px" text-anchor="middle">49</text>
<text x="197.18" y="984.2" font-size="9" style="stroke-width:0.1px" text-anchor="middle">54</text>
<text x="214.02" y="973.1" font-size="9" style="stroke-width:0.1px" text-anchor="middle">48</text>
<text x="214.02" y="984.2" font-size="9" style="stroke-width:0.1px" text-anchor="middle">51</text>
<text x="230.86" y="973.1" font-size="9" style="stroke-width:0.1px" text-anchor="middle">47</text>
<text x="230.86" y="984.2" font-size="9" style="stroke-width:0.1px" text-anchor="middle">48</text>
<text x="247.7" y="973.1" font-size="9" style="stroke-width:0.1px" text-anchor="middle">37</text>
<text x="247.7" y="984.2" font-size="9" style="stroke-width:0.1px" text-anchor="middle">43</text>
<text x="264.54" y="973.1" font-size="9" style="stroke-width:0.1px" text-anchor="middle">32</text>
<text x="264.54" y="984.2" font-size="9" style="stroke-width:0.1px" text-anchor="middle">33</text>
<text x="281.38" y="973.1" font-size="9" style="stroke-width:0.1px" text-anchor="middle">24</text>
<text x="281.38" y="984.2" font-size="9" style="stroke-width:0.1px" text-anchor="middle">25</text>
<text x="298.22" y="973.1" font-size="9" style="stroke-width:0.1px" text-anchor="middle">18</text>
<text x="298.22" y="984.2" font-size="9" style="stroke-width:0.1px" text-anchor="middle">16</text>
<text x="315.06" y="973.1" font-size="9" style="stroke-width:0.1px" text-anchor="middle">18</text>
<text x="315.06" y="984.2" font-size="9" style="stroke-width:0.1px" text-anchor="middle">13</text>
<text x="331.9" y="973.1" font-size="9" style="stroke-width:0.1px" text-anchor="middle">16</text>
<text x="331.9" y="984.2" font-size="9" style="stroke-width:0.1px" text-anchor="middle">10</text>
<text x="348.74" y="973.1" font-size="9" style="stroke-width:0.1px" text-anchor="middle">13</text>
<text x="348.74" y="984.2" font-size="9" style="stroke-width:0.1px" text-anchor="middle">8</text>
<text x="365.58" y="973.1" font-size="9" style="stroke-width:0.1px" text-anchor="middle">12</text>
<text x="365.58" y="984.2" font-size="9" style="stroke-width:0.1px" text-anchor="middle">6</text>
<text x="382.42" y="973.1" font-size="9" style="stroke-width:0.1px" text-anchor="middle">5</text>
<text x="382.42" y="984.2" font-size="9" style="stroke-width:0.1px" text-anchor="middle">4</text>
<text x="399.26" y="973.1" font-size="9" style="stroke-width:0.1px" text-anchor="middle">5</text>
<text x="399.26" y="984.2" font-size="9" style="stroke-width:0.1px" text-anchor="middle">2</text>
<text x="416.1" y="973.1" font-size="9" style="stroke-width:0.1px" text-anchor="middle">3</text>
<text x="416.1" y="984.2" font-size="9" style="stroke-width:0.1px" text-anchor="middle">1</text>
<text x="432.94" y="973.1" font-size="9" style="stroke-width:0.1px" text-anchor="middle">1</text>
<text x="432.94" y="984.2" font-size="9" style="stroke-width:0.1px" text-anchor="middle">1</text>
<text x="449.78" y="973.1" font-size="9" style="stroke-width:0.1px" text-anchor="middle">1</text>
<text x="449.78" y="984.2" font-size="9" style="stroke-width:0.1px" text-anchor="middle">0</text>
<text x="466.62" y="973.1" font-size="9" style="stroke-width:0.1px" text-anchor="middle">0</text>
<text x="466.62" y="984.2" font-size="9" style="stroke-width:0.1px" text-anchor="middle">0</text>
<text x="483.46" y="973.1" font-size="9" style="stroke-width:0.1px" text-anchor="middle">0</text>
<text x="483.46" y="984.2" font-size="9" style="stroke-width:0.1px" text-anchor="middle">0</text>
</svg>
</body></html>
